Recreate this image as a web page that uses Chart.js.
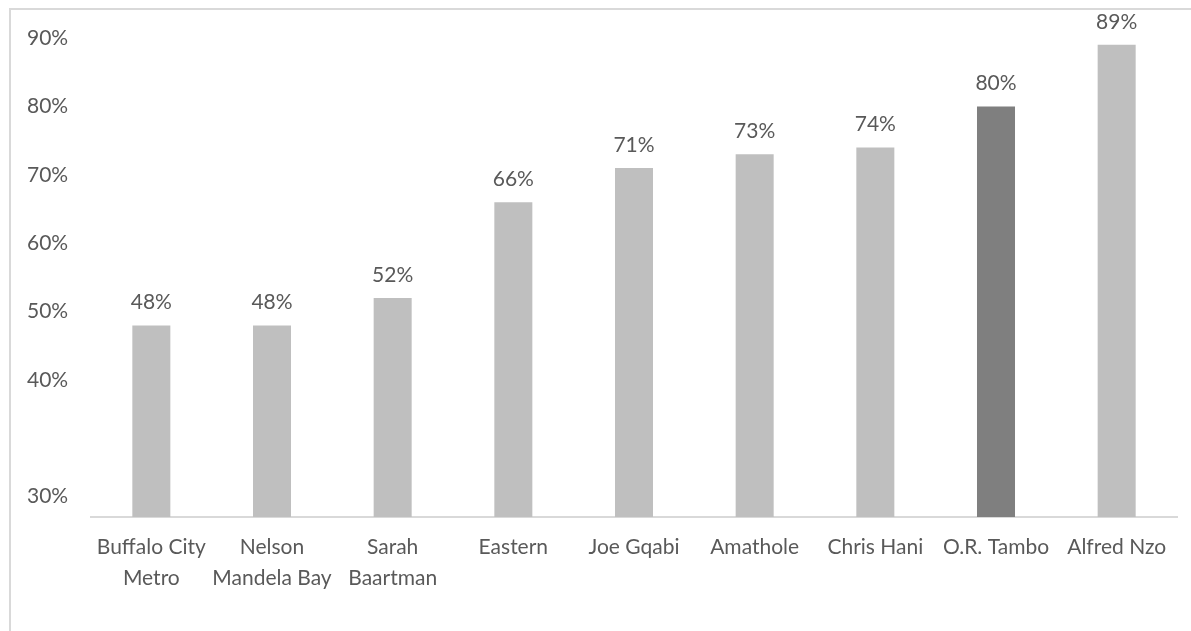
<!DOCTYPE html>
<html>
<head>
<meta charset="utf-8">
<script src="https://cdn.jsdelivr.net/npm/chart.js@4.4.1/dist/chart.umd.min.js"></script>
<style>
  html, body { margin:0; padding:0; background:#fff; overflow:hidden; }
  #frame { position:absolute; left:9px; top:8px; width:1200px; height:640px; border:2px solid #d9d9d9; box-sizing:border-box; }
  #chart { position:absolute; left:0; top:0; }
</style>
</head>
<body>
<div id="frame"></div>
<canvas id="chart" width="1191" height="631"></canvas>
<script>
  const categories = [
    ["Buffalo City", "Metro"],
    ["Nelson", "Mandela Bay"],
    ["Sarah", "Baartman"],
    "Eastern",
    "Joe Gqabi",
    "Amathole",
    "Chris Hani",
    "O.R. Tambo",
    "Alfred Nzo"
  ];
  const values = [48, 48, 52, 66, 71, 73, 74, 80, 89];
  const tickValues = [23, 40, 50, 60, 70, 80, 90];
  const tickLabels = ["30%", "40%", "50%", "60%", "70%", "80%", "90%"];
  const highlight = "O.R. Tambo";

  const textColor = "#595959";
  const font = { family: "Lato, 'Open Sans', sans-serif", size: 21 };

  const barColors = categories.map(c => c === highlight ? "#7f7f7f" : "#bfbfbf");

  // percent label above every bar
  const valueLabels = {
    id: "valueLabels",
    afterDatasetsDraw(chart){
      const ctx = chart.ctx;
      const meta = chart.getDatasetMeta(0);
      ctx.save();
      ctx.font = `${font.size}px ${font.family}`;
      ctx.fillStyle = textColor;
      ctx.textAlign = "center";
      ctx.textBaseline = "alphabetic";
      meta.data.forEach((bar, i) => {
        ctx.fillText(values[i] + "%", bar.x, bar.y - 16);
      });
      ctx.restore();
    }
  };

  new Chart(document.getElementById("chart"), {
    type: "bar",
    data: {
      labels: categories,
      datasets: [{ data: values, backgroundColor: barColors, borderWidth: 0, barPercentage: 0.315, categoryPercentage: 1 }]
    },
    options: {
      responsive: false,
      animation: false,
      layout: { padding: { left: 27, top: 38, right: 14, bottom: 0 } },
      plugins: { legend: { display: false }, tooltip: { enabled: false } },
      scales: {
        x: {
          grid: { display: false, drawTicks: false },
          border: { display: true, color: "#d9d9d9", width: 2 },
          ticks: { color: textColor, font: { ...font, lineHeight: 1.48 }, padding: 15, autoSkip: false, maxRotation: 0 },
          afterFit(scale){ scale.height = 114; }
        },
        y: {
          min: 20, max: 90,
          grid: { display: false, drawTicks: false },
          border: { display: false },
          afterBuildTicks(scale){ scale.ticks = tickValues.map(v => ({ value: v })); },
          ticks: {
            color: textColor, font, crossAlign: "far", padding: 0,
            callback: v => tickLabels[tickValues.indexOf(v)]
          },
          afterFit(scale){ scale.width = 64; }
        }
      }
    },
    plugins: [valueLabels]
  });
</script>
</body>
</html>
